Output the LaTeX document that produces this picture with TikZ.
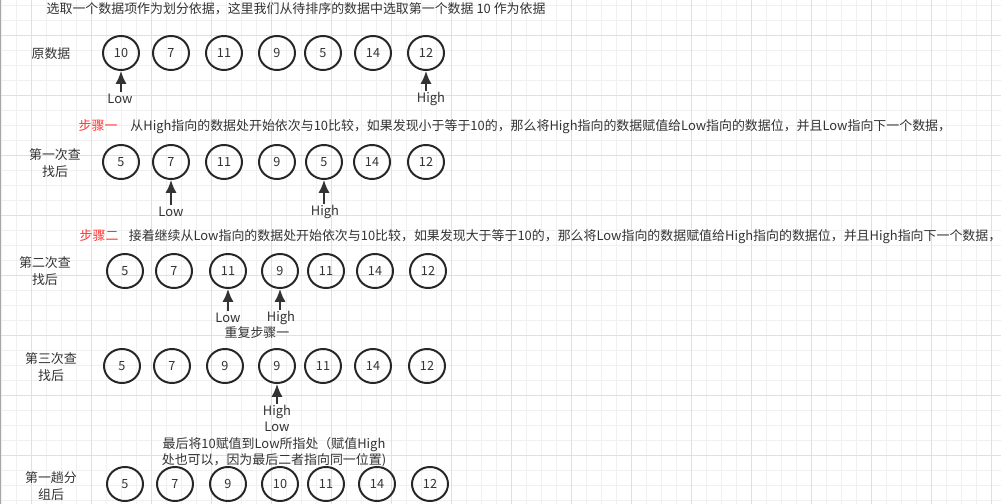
\documentclass[tikz,border=0pt]{standalone}
\usepackage{fontspec}
\setmainfont{Noto Sans CJK SC}
\usetikzlibrary{shapes.geometric,arrows.meta}
\definecolor{ink}{HTML}{333333}
\definecolor{gmincol}{HTML}{F0F0F0}
\definecolor{gmajcol}{HTML}{E0E0E0}
\definecolor{stepred}{HTML}{FF3333}

\begin{document}
\begin{tikzpicture}[
x=0.025cm,y=-0.025cm,
num/.style={%
ellipse,
draw=black!85,
line width=1.4pt,
minimum width=0.9cm,
minimum height=0.85cm,
inner sep=0pt,
text=ink,
font=\fontsize{9}{11}\selectfont
},
ptr/.style={%
-{Latex[length=3.2mm,width=2.8mm]},
line width=1.5pt,
draw=ink
},
tag/.style={%
text=ink,
inner sep=1pt,
font=\fontsize{9.2}{11.5}\selectfont
},
rowlbl/.style={%
tag,
align=center
},
capt/.style={%
tag,
anchor=west
},
gmin/.style={gmincol,line width=0.7pt},
gmaj/.style={gmajcol,line width=0.7pt}
]

\useasboundingbox(0,0)rectangle(1001,504);
\fill[white](0,0)rectangle(1001,504);
%grid
\foreach \gx in {1.7,16.7,...,1001}\draw[gmin](\gx,0)--(\gx,504);
\foreach \gy in {5,20,...,504}\draw[gmin](0,\gy)--(1001,\gy);
\foreach \gx in {31.7,91.7,...,1001}\draw[gmaj](\gx,0)--(\gx,504);
\foreach \gy in {35,95,...,504}\draw[gmaj](0,\gy)--(1001,\gy);
\draw[black!35,line width=0.8pt](0.5,0)--(0.5,504);

\node[capt](title)at(45,9){选取一个数据项作为划分依据，这里我们从待排序的数据中选取第一个数据 10 作为依据};

%row 1
\node[rowlbl](r1)at(51,54){原数据};
\node[num](a1)at(121,53){10};
\node[num](a2)at(171,53){7};
\node[num](a3)at(224,53){11};
\node[num](a4)at(277,53){9};
\node[num](a5)at(323,53){5};
\node[num](a6)at(373,53){14};
\node[num](a7)at(426,53){12};
\node[tag](lowa)at(120,99){Low};
\node[tag](higha)at(431,99){High};
\draw[ptr](a1.south|-lowa.north)--(a1.south);
\draw[ptr](a7.south|-higha.north)--(a7.south);

\node[capt](step1)at(77,127){\textcolor{stepred}{步骤一}\hspace{1em}从High指向的数据处开始依次与10比较，如果发现小于等于10的，那么将High指向的数据赋值给Low指向的数据位，并且Low指向下一个数据，};

%row 2
\node[rowlbl](r2)at(55,163){第一次查\\找后};
\node[num](b1)at(121,162){5};
\node[num](b2)at(171,162){7};
\node[num](b3)at(224,162){11};
\node[num](b4)at(277,162){9};
\node[num](b5)at(324,162){5};
\node[num](b6)at(372,162){14};
\node[num](b7)at(426,162){12};
\node[tag](lowb)at(171,212){Low};
\node[tag](highb)at(325,212){High};
\draw[ptr](b2.south|-lowb.north)--(b2.south);
\draw[ptr](b5.south|-highb.north)--(b5.south);

\node[capt](step2)at(78,237){\textcolor{stepred}{步骤二}\hspace{0.8em}接着继续从Low指向的数据处开始依次与10比较，如果发现大于等于10的，那么将Low指向的数据赋值给High指向的数据位，并且High指向下一个数据，};

%row 3
\node[rowlbl](r3)at(45,271){第二次查\\找后};
\node[num](c1)at(125,271){5};
\node[num](c2)at(174,271){7};
\node[num](c3)at(228,271){11};
\node[num](c4)at(280,271){9};
\node[num](c5)at(326,271){11};
\node[num](c6)at(375,271){14};
\node[num](c7)at(428,271){12};
\node[tag](lowc)at(228,318){Low};
\node[tag](highc)at(281,318){High};
\draw[ptr](c3.south|-lowc.north)--(c3.south);
\draw[ptr](c4.south|-highc.north)--(c4.south);
\node[tag](again)at(257,333){重复步骤一};

%row 4
\node[rowlbl](r4)at(51,367){第三次查\\找后};
\node[num](d1)at(122,366){5};
\node[num](d2)at(172,366){7};
\node[num](d3)at(225,366){9};
\node[num](d4)at(277,366){9};
\node[num](d5)at(323,366){11};
\node[num](d6)at(373,366){14};
\node[num](d7)at(427,366){12};
\node[tag](highd)at(277,412){High};
\node[tag](lowd)at(277,427){Low};
\draw[ptr](d4.south|-highd.north)--(d4.south);
\node[rowlbl](last)at(274,452){最后将10赋值到Low所指处（赋值High\\处也可以，因为最后二者指向同一位置)};

%row 5
\node[rowlbl](r5)at(51,486){第一趟分\\组后};
\node[num](e1)at(125,484){5};
\node[num](e2)at(175,484){7};
\node[num](e3)at(228,484){9};
\node[num](e4)at(280,484){10};
\node[num](e5)at(326,484){11};
\node[num](e6)at(377,484){14};
\node[num](e7)at(430,484){12};

\end{tikzpicture}
\end{document}
